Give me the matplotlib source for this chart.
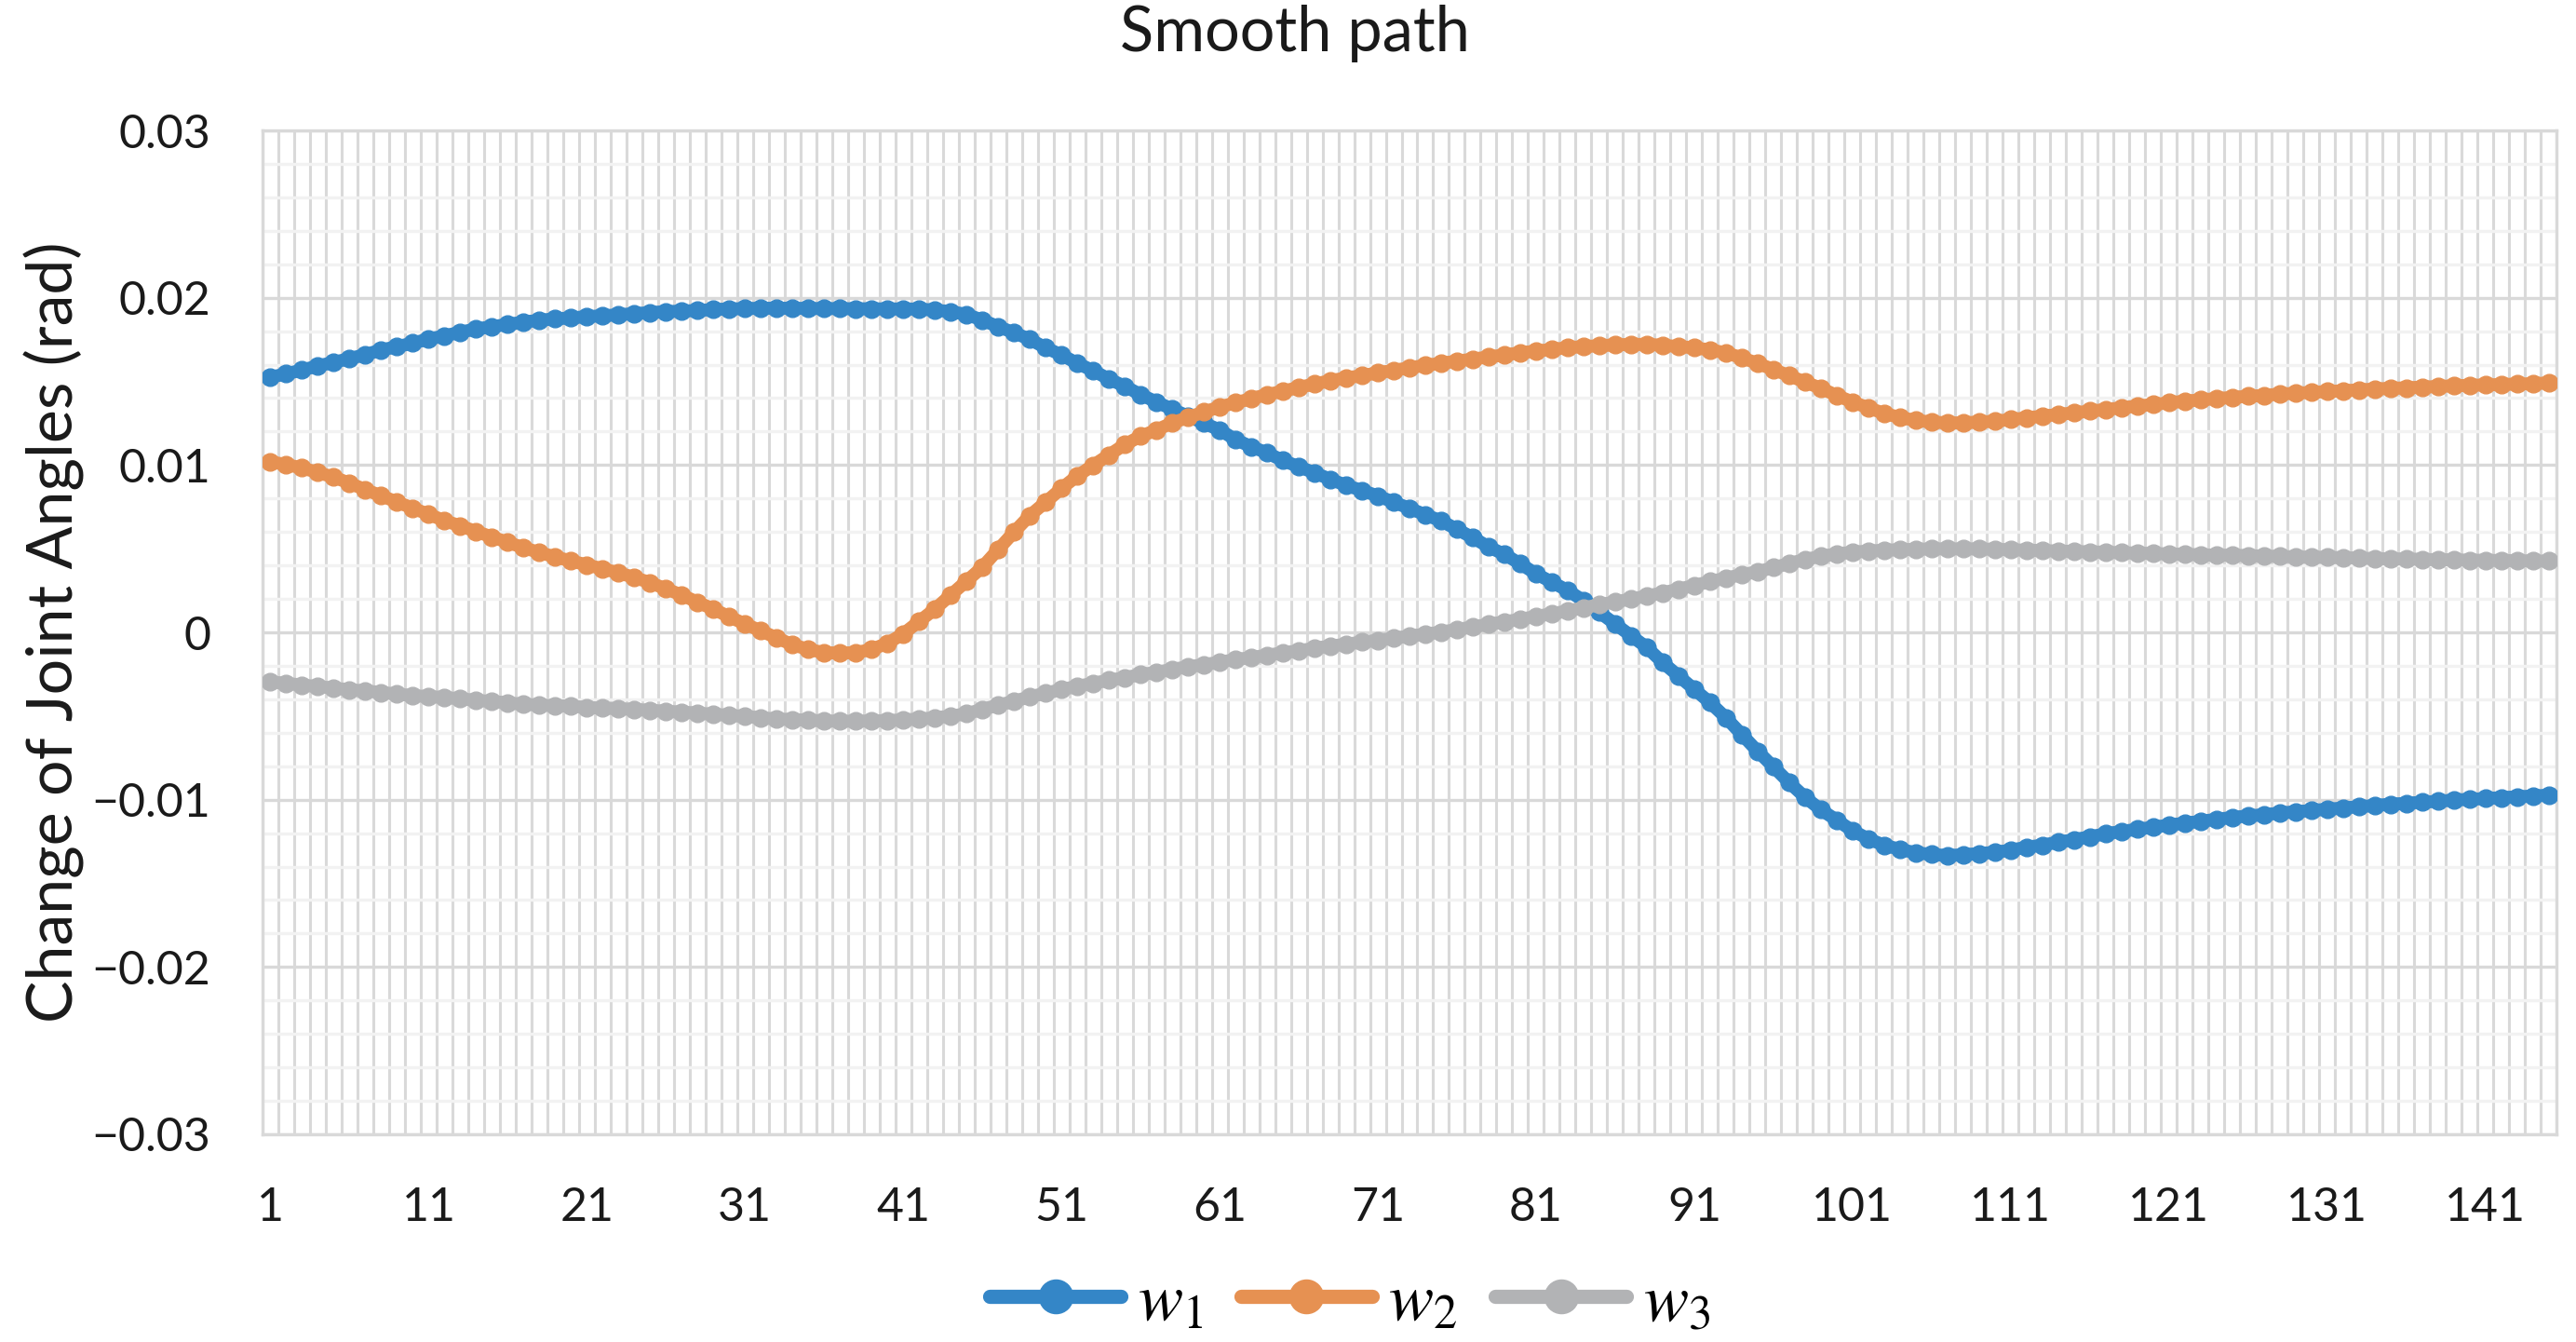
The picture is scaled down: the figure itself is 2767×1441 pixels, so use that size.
import matplotlib
matplotlib.use("Agg")
import matplotlib.pyplot as plt
from matplotlib.lines import Line2D
import numpy as np

plt.rcParams['font.family'] = ['Lato', 'DejaVu Sans']
plt.rcParams['mathtext.fontset'] = 'stix'

# joint angle changes, points 1..145
w1 = [0.01525, 0.01545, 0.01568, 0.01592, 0.01614, 0.01636, 0.01660, 0.01688, 0.01707, 0.01729,
      0.01753, 0.01772, 0.01794, 0.01813, 0.01827, 0.01840, 0.01855, 0.01865, 0.01874, 0.01879,
      0.01887, 0.01892, 0.01898, 0.01905, 0.01911, 0.01917, 0.01920, 0.01924, 0.01929, 0.01933,
      0.01935, 0.01937, 0.01937, 0.01937, 0.01936, 0.01935, 0.01935, 0.01934, 0.01934, 0.01933,
      0.01933, 0.01932, 0.01926, 0.01917, 0.01900, 0.01866, 0.01827,
      0.01791, 0.01751, 0.01701, 0.01658, 0.01608, 0.01564, 0.01514, 0.01471, 0.01421, 0.01377,
      0.01334, 0.01292, 0.01250, 0.01210, 0.01152, 0.01110, 0.01072, 0.01027, 0.00990, 0.00953,
      0.00915, 0.00878, 0.00848, 0.00815, 0.00778, 0.00741, 0.00703, 0.00666, 0.00616, 0.00566,
      0.00511, 0.00466,
      0.0041, 0.0035, 0.0030, 0.0025, 0.0019, 0.0012, 0.0005, -0.0002, -0.0009, -0.0018,
      -0.0026, -0.0034, -0.0042, -0.0051, -0.0061, -0.0071,
      -0.00803, -0.00898, -0.00985, -0.01060, -0.01122, -0.01185, -0.01234, -0.01272, -0.01297, -0.01317,
      -0.01327, -0.01334, -0.01329, -0.01322, -0.01314, -0.01302, -0.01284, -0.01272, -0.01254, -0.01239,
      -0.01222, -0.01204, -0.01190, -0.01177, -0.01165, -0.01152, -0.01140, -0.01130, -0.01117, -0.01107,
      -0.01097, -0.01090, -0.01080, -0.01072, -0.01065, -0.01057, -0.01050, -0.01042, -0.01035, -0.01027,
      -0.01022, -0.01015, -0.01010, -0.01002, -0.00998, -0.00993, -0.00988, -0.00983, -0.00978, -0.00973]

w2 = [0.01020, 0.01002, 0.00983, 0.00955, 0.00928, 0.00891, 0.00853, 0.00816, 0.00779, 0.00742,
      0.00705, 0.00668, 0.00636, 0.00603, 0.00570, 0.00538, 0.00506, 0.00477, 0.00451, 0.00427,
      0.00403, 0.00380, 0.00356, 0.00328, 0.00297, 0.00260, 0.00223, 0.00180, 0.00139, 0.00093,
      0.00050, 0.00009, -0.00033, -0.00074, -0.00102, -0.00121, -0.00124, -0.00121, -0.00102, -0.00065,
      -0.00009, 0.00065, 0.00139, 0.00223, 0.00306, 0.00390, 0.00495,
      0.00599, 0.00698, 0.00778, 0.00860, 0.00935, 0.00998, 0.01060, 0.01122, 0.01172, 0.01209,
      0.01252, 0.01284, 0.01317, 0.01347, 0.01372, 0.01397, 0.01421, 0.01441, 0.01464, 0.01484,
      0.01504, 0.01521, 0.01534, 0.01551, 0.01566, 0.01581, 0.01596, 0.01608, 0.01621, 0.01633,
      0.01646, 0.01658, 0.01671, 0.01681, 0.01691, 0.01701, 0.01708, 0.01713, 0.01718, 0.01721,
      0.01721, 0.01716, 0.01708, 0.01701, 0.01688,
      0.01671, 0.01641, 0.01608, 0.01571, 0.01534, 0.01496, 0.01459, 0.01416, 0.01377, 0.01342,
      0.01309, 0.01284, 0.01267, 0.01257, 0.01252, 0.01252, 0.01257, 0.01262, 0.01272, 0.01282,
      0.01292, 0.01302, 0.01312, 0.01322, 0.01332, 0.01342, 0.01352, 0.01362, 0.01372, 0.01382,
      0.01389, 0.01397, 0.01404, 0.01411, 0.01416, 0.01424, 0.01429, 0.01434, 0.01439, 0.01444,
      0.01449, 0.01454, 0.01459, 0.01461, 0.01466, 0.01469, 0.01474, 0.01476, 0.01479, 0.01481,
      0.01484, 0.01486, 0.01491]

w3 = [-0.00296, -0.00305, -0.00315, -0.00324, -0.00333, -0.00343, -0.00350, -0.00359, -0.00369, -0.00378,
      -0.00384, -0.00389, -0.00397, -0.00406, -0.00413, -0.00421, -0.00430, -0.00434, -0.00438, -0.00441,
      -0.00449, -0.00453, -0.00456, -0.00460, -0.00466, -0.00471, -0.00477, -0.00482, -0.00490, -0.00495,
      -0.00503, -0.00510, -0.00518, -0.00521, -0.00525, -0.00529, -0.00531, -0.00531, -0.00529, -0.00527,
      -0.00523, -0.00518, -0.00510, -0.00501, -0.00486,
      -0.00460, -0.00435, -0.00412, -0.00385, -0.00364, -0.00341, -0.00323, -0.00304, -0.00286, -0.00271,
      -0.00252, -0.00239, -0.00221, -0.00206, -0.00193, -0.00178, -0.00163, -0.00150, -0.00137, -0.00122,
      -0.00110, -0.00095, -0.00082, -0.00071, -0.00058, -0.00048, -0.00035, -0.00022, -0.00011, 0.00002,
      0.00017, 0.00032, 0.00048, 0.00063, 0.00078, 0.00095, 0.00111, 0.00128, 0.00147, 0.00165,
      0.00182, 0.00199, 0.00217, 0.00236, 0.00258, 0.00280, 0.00304, 0.00324, 0.00345,
      0.00362, 0.00387, 0.00411, 0.00436, 0.00454, 0.00469, 0.00479, 0.00486, 0.00491, 0.00494,
      0.00496, 0.00499, 0.00499, 0.00499, 0.00499, 0.00496, 0.00494, 0.00491, 0.00489, 0.00486,
      0.00484, 0.00481, 0.00479, 0.00476, 0.00474, 0.00471, 0.00469, 0.00466, 0.00464, 0.00461,
      0.00461, 0.00459, 0.00456, 0.00454, 0.00451, 0.00449, 0.00449, 0.00446, 0.00444, 0.00441,
      0.00439, 0.00439, 0.00436, 0.00434, 0.00434, 0.00431, 0.00431, 0.00429, 0.00429, 0.00426,
      0.00426]

series_names = [r'$w_1$', r'$w_2$', r'$w_3$']
colors = ['#3486c7', '#e69152', '#b2b3b5']
xtick_vals = list(range(1, 146, 10))
ytick_vals = [-0.03, -0.02, -0.01, 0, 0.01, 0.02, 0.03]
ytick_labels = ['\u22120.03', '\u22120.02', '\u22120.01', '0', '0.01', '0.02', '0.03']

fig = plt.figure(figsize=(27.67, 14.41), dpi=100)
ax = fig.add_axes([282/2767, 1 - 1218/1441, (2746-282)/2767, (1218-140)/1441])

n = len(w1)
for ys, c in zip([w1, w2, w3], colors):
    xs = np.arange(1, len(ys) + 1)
    ax.plot(xs, ys, color=c, lw=10, marker='o', ms=13.5, mec=c, mfc=c,
            solid_capstyle='round', zorder=3)

ax.set_xlim(0.5, n + 0.5)
ax.set_ylim(-0.03, 0.03)

ax.set_xticks(xtick_vals)
ax.set_xticklabels([str(v) for v in xtick_vals])
ax.set_xticks(np.arange(0.5, n + 1, 1.0), minor=True)
ax.set_yticks(ytick_vals)
ax.set_yticklabels(ytick_labels)
ax.set_yticks(np.arange(-0.03, 0.0301, 0.002), minor=True)

ax.set_axisbelow(True)
ax.yaxis.grid(True, which='minor', color='#f2f2f2', lw=2.4)
ax.yaxis.grid(True, which='major', color='#d9d9d9', lw=2.4)
ax.xaxis.grid(True, which='minor', color='#d9d9d9', lw=2.2)
ax.xaxis.grid(False, which='major')

ax.tick_params(which='both', length=0)
ax.tick_params(axis='y', labelsize=36, pad=40, colors='#1a1a1a')
ax.tick_params(axis='x', labelsize=36, pad=40, colors='#1a1a1a')
for s in ax.spines.values():
    s.set_color('#d9d9d9')
    s.set_linewidth(2.4)

ax.set_ylabel('Change of Joint Angles (rad)', fontsize=49, color='#1a1a1a')
ax.yaxis.set_label_coords((91 - 282) / 2464, 0.5)

fig.text(1391/2767, 1 - 36/1441, 'Smooth path', ha='center', va='center',
         fontsize=48, color='#1a1a1a')

handles = [Line2D([0], [0], color=c, lw=11, marker='o', ms=26, mfc=c, mec=c,
                  solid_capstyle='round') for c in colors]
fig.legend(handles, series_names, loc='center', bbox_to_anchor=(1450/2767, 1 - 1397/1441),
           ncol=3, frameon=False, fontsize=52, handlelength=1.95, handletextpad=0.24,
           columnspacing=0.57)

fig.savefig('out.png', dpi=100)
